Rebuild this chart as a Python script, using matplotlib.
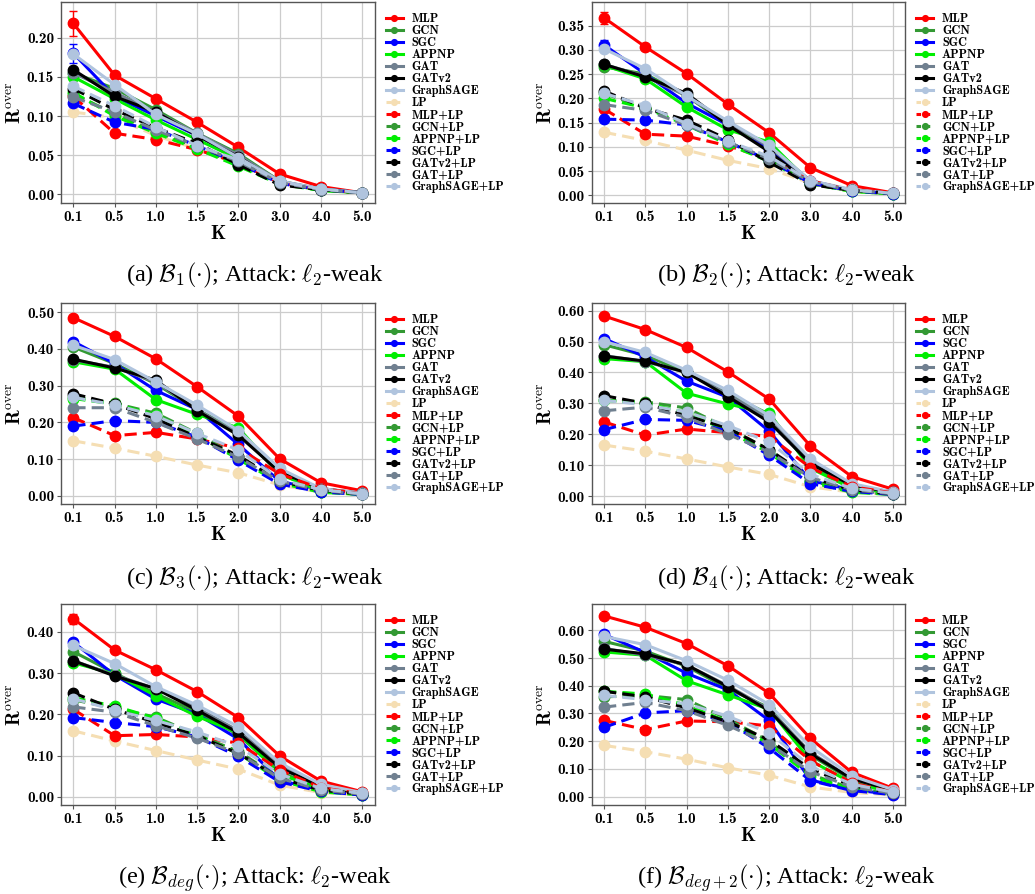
import matplotlib
matplotlib.use("Agg")
import matplotlib.pyplot as plt

# x categories (equally spaced on the axis)
K_LABELS = ["0.1", "0.5", "1.0", "1.5", "2.0", "3.0", "4.0", "5.0"]

MODELS = ["MLP", "GCN", "SGC", "APPNP", "GAT", "GATv2", "GraphSAGE", "LP",
          "MLP+LP", "GCN+LP", "APPNP+LP", "SGC+LP", "GATv2+LP", "GAT+LP",
          "GraphSAGE+LP"]

# one row per model (same order as MODELS), one column per K
B1_VALUES = [
    [0.218, 0.152, 0.122, 0.092, 0.060, 0.026, 0.010, 0.002],
    [0.155, 0.135, 0.108, 0.078, 0.052, 0.017, 0.006, 0.002],
    [0.180, 0.125, 0.100, 0.075, 0.048, 0.016, 0.007, 0.002],
    [0.150, 0.122, 0.095, 0.070, 0.045, 0.015, 0.005, 0.002],
    [0.155, 0.130, 0.105, 0.078, 0.050, 0.017, 0.007, 0.002],
    [0.159, 0.125, 0.105, 0.075, 0.048, 0.015, 0.007, 0.002],
    [0.179, 0.140, 0.102, 0.077, 0.047, 0.017, 0.007, 0.002],
    [0.105, 0.098, 0.075, 0.058, 0.040, 0.015, 0.006, 0.002],
    [0.125, 0.078, 0.070, 0.057, 0.040, 0.015, 0.006, 0.002],
    [0.128, 0.103, 0.080, 0.060, 0.038, 0.014, 0.006, 0.002],
    [0.130, 0.100, 0.078, 0.058, 0.036, 0.013, 0.005, 0.002],
    [0.116, 0.092, 0.083, 0.062, 0.040, 0.014, 0.006, 0.002],
    [0.135, 0.108, 0.085, 0.065, 0.038, 0.012, 0.006, 0.002],
    [0.124, 0.105, 0.082, 0.062, 0.042, 0.015, 0.006, 0.002],
    [0.138, 0.113, 0.086, 0.062, 0.044, 0.016, 0.007, 0.002],
]

B2_VALUES = [
    [0.366, 0.306, 0.251, 0.188, 0.129, 0.057, 0.020, 0.005],
    [0.265, 0.250, 0.205, 0.145, 0.105, 0.028, 0.008, 0.003],
    [0.310, 0.250, 0.190, 0.145, 0.095, 0.030, 0.010, 0.004],
    [0.268, 0.240, 0.182, 0.135, 0.110, 0.025, 0.008, 0.003],
    [0.270, 0.245, 0.205, 0.150, 0.100, 0.030, 0.010, 0.004],
    [0.270, 0.244, 0.210, 0.145, 0.090, 0.024, 0.010, 0.004],
    [0.302, 0.261, 0.205, 0.153, 0.103, 0.030, 0.012, 0.004],
    [0.130, 0.113, 0.093, 0.072, 0.055, 0.025, 0.008, 0.003],
    [0.178, 0.126, 0.122, 0.102, 0.075, 0.030, 0.010, 0.004],
    [0.210, 0.180, 0.150, 0.110, 0.075, 0.025, 0.010, 0.003],
    [0.200, 0.180, 0.145, 0.105, 0.070, 0.024, 0.008, 0.003],
    [0.157, 0.155, 0.145, 0.110, 0.072, 0.025, 0.009, 0.003],
    [0.215, 0.180, 0.155, 0.115, 0.068, 0.022, 0.010, 0.004],
    [0.187, 0.175, 0.145, 0.110, 0.075, 0.028, 0.010, 0.004],
    [0.210, 0.185, 0.148, 0.112, 0.080, 0.030, 0.011, 0.004],
]

B3_VALUES = [
    [0.485, 0.434, 0.373, 0.297, 0.217, 0.101, 0.036, 0.014],
    [0.405, 0.360, 0.305, 0.235, 0.175, 0.060, 0.015, 0.006],
    [0.420, 0.360, 0.287, 0.235, 0.140, 0.040, 0.015, 0.005],
    [0.365, 0.345, 0.262, 0.222, 0.185, 0.060, 0.012, 0.005],
    [0.370, 0.350, 0.310, 0.235, 0.170, 0.065, 0.020, 0.007],
    [0.372, 0.348, 0.315, 0.232, 0.165, 0.065, 0.020, 0.007],
    [0.410, 0.371, 0.310, 0.247, 0.178, 0.075, 0.020, 0.008],
    [0.150, 0.130, 0.108, 0.084, 0.063, 0.030, 0.010, 0.004],
    [0.213, 0.164, 0.173, 0.155, 0.130, 0.060, 0.020, 0.006],
    [0.270, 0.252, 0.225, 0.170, 0.105, 0.040, 0.012, 0.004],
    [0.265, 0.250, 0.220, 0.165, 0.100, 0.035, 0.010, 0.004],
    [0.190, 0.205, 0.200, 0.160, 0.097, 0.032, 0.011, 0.004],
    [0.278, 0.250, 0.210, 0.160, 0.110, 0.040, 0.015, 0.005],
    [0.240, 0.240, 0.200, 0.155, 0.105, 0.040, 0.015, 0.005],
    [0.268, 0.248, 0.218, 0.170, 0.125, 0.045, 0.017, 0.006],
]

B4_VALUES = [
    [0.583, 0.539, 0.481, 0.402, 0.314, 0.162, 0.063, 0.022],
    [0.490, 0.455, 0.400, 0.330, 0.265, 0.100, 0.030, 0.010],
    [0.510, 0.450, 0.372, 0.320, 0.210, 0.050, 0.020, 0.007],
    [0.445, 0.435, 0.333, 0.298, 0.268, 0.090, 0.025, 0.008],
    [0.455, 0.435, 0.400, 0.330, 0.250, 0.110, 0.035, 0.012],
    [0.453, 0.437, 0.400, 0.322, 0.240, 0.105, 0.035, 0.012],
    [0.500, 0.465, 0.407, 0.342, 0.260, 0.120, 0.040, 0.013],
    [0.165, 0.145, 0.120, 0.094, 0.070, 0.030, 0.012, 0.005],
    [0.240, 0.197, 0.217, 0.205, 0.193, 0.092, 0.030, 0.010],
    [0.310, 0.305, 0.285, 0.220, 0.150, 0.050, 0.015, 0.005],
    [0.310, 0.300, 0.270, 0.210, 0.140, 0.045, 0.012, 0.005],
    [0.215, 0.248, 0.245, 0.210, 0.132, 0.040, 0.015, 0.005],
    [0.325, 0.300, 0.260, 0.220, 0.150, 0.060, 0.020, 0.007],
    [0.276, 0.288, 0.255, 0.200, 0.142, 0.060, 0.020, 0.007],
    [0.310, 0.295, 0.272, 0.228, 0.175, 0.070, 0.025, 0.009],
]

BDEG_VALUES = [
    [0.432, 0.356, 0.308, 0.255, 0.192, 0.099, 0.038, 0.012],
    [0.352, 0.300, 0.250, 0.205, 0.150, 0.060, 0.020, 0.007],
    [0.375, 0.295, 0.237, 0.200, 0.140, 0.040, 0.015, 0.005],
    [0.325, 0.298, 0.245, 0.195, 0.155, 0.055, 0.018, 0.006],
    [0.330, 0.295, 0.262, 0.215, 0.160, 0.075, 0.025, 0.009],
    [0.330, 0.293, 0.262, 0.210, 0.155, 0.070, 0.025, 0.009],
    [0.367, 0.323, 0.267, 0.222, 0.170, 0.082, 0.030, 0.010],
    [0.160, 0.135, 0.112, 0.089, 0.067, 0.028, 0.010, 0.004],
    [0.212, 0.148, 0.151, 0.145, 0.130, 0.065, 0.022, 0.007],
    [0.235, 0.215, 0.193, 0.150, 0.110, 0.045, 0.015, 0.005],
    [0.240, 0.220, 0.190, 0.148, 0.105, 0.040, 0.012, 0.004],
    [0.192, 0.180, 0.170, 0.145, 0.098, 0.036, 0.013, 0.004],
    [0.252, 0.212, 0.180, 0.148, 0.105, 0.045, 0.016, 0.006],
    [0.218, 0.205, 0.172, 0.142, 0.105, 0.045, 0.016, 0.006],
    [0.238, 0.210, 0.185, 0.157, 0.122, 0.055, 0.020, 0.008],
]

BDEG2_VALUES = [
    [0.652, 0.611, 0.552, 0.472, 0.373, 0.210, 0.088, 0.030],
    [0.560, 0.525, 0.470, 0.390, 0.320, 0.150, 0.060, 0.020],
    [0.585, 0.520, 0.445, 0.385, 0.275, 0.060, 0.025, 0.008],
    [0.522, 0.510, 0.418, 0.367, 0.315, 0.130, 0.050, 0.015],
    [0.535, 0.510, 0.475, 0.400, 0.315, 0.160, 0.065, 0.022],
    [0.532, 0.515, 0.475, 0.397, 0.310, 0.155, 0.065, 0.022],
    [0.578, 0.548, 0.490, 0.420, 0.332, 0.180, 0.075, 0.025],
    [0.185, 0.162, 0.135, 0.104, 0.077, 0.035, 0.015, 0.006],
    [0.275, 0.242, 0.273, 0.270, 0.255, 0.130, 0.050, 0.015],
    [0.360, 0.365, 0.350, 0.280, 0.200, 0.080, 0.030, 0.010],
    [0.380, 0.370, 0.330, 0.270, 0.190, 0.075, 0.025, 0.008],
    [0.250, 0.302, 0.310, 0.270, 0.175, 0.058, 0.022, 0.007],
    [0.380, 0.360, 0.320, 0.270, 0.205, 0.100, 0.040, 0.013],
    [0.323, 0.340, 0.310, 0.257, 0.190, 0.090, 0.035, 0.012],
    [0.365, 0.350, 0.335, 0.290, 0.230, 0.110, 0.045, 0.016],
]

# std at K=0.1 (only visible error bars)
MLP_ERR_FIRST = [0.016, 0.012, 0.006, 0.005, 0.012, 0.006]
SGC_ERR_FIRST = [0.012, 0.010, 0.006, 0.006, 0.008, 0.008]

CAPTIONS = [
    r"(a) $\mathcal{B}_1(\cdot)$; Attack: $\ell_2$-weak",
    r"(b) $\mathcal{B}_2(\cdot)$; Attack: $\ell_2$-weak",
    r"(c) $\mathcal{B}_3(\cdot)$; Attack: $\ell_2$-weak",
    r"(d) $\mathcal{B}_4(\cdot)$; Attack: $\ell_2$-weak",
    r"(e) $\mathcal{B}_{deg}(\cdot)$; Attack: $\ell_2$-weak",
    r"(f) $\mathcal{B}_{deg+2}(\cdot)$; Attack: $\ell_2$-weak",
]

Y_TICKS = [
    [0.00, 0.05, 0.10, 0.15, 0.20],
    [0.00, 0.05, 0.10, 0.15, 0.20, 0.25, 0.30, 0.35],
    [0.00, 0.10, 0.20, 0.30, 0.40, 0.50],
    [0.00, 0.10, 0.20, 0.30, 0.40, 0.50, 0.60],
    [0.00, 0.10, 0.20, 0.30, 0.40],
    [0.00, 0.10, 0.20, 0.30, 0.40, 0.50, 0.60],
]
Y_LIMS = [(-0.011, 0.245), (-0.016, 0.398), (-0.022, 0.524),
          (-0.026, 0.624), (-0.020, 0.467), (-0.030, 0.694)]

colors = {
    "MLP": "#ff0000", "GCN": "#339933", "SGC": "#0000ff", "APPNP": "#00ee00",
    "GAT": "#708090", "GATv2": "#000000", "GraphSAGE": "#b0c4de",
    "LP": "#f5deb3",
}


def base_color(name):
    return colors[name.replace("+LP", "")]


plt.rcParams["mathtext.fontset"] = "cm"
plt.rcParams["axes.unicode_minus"] = False

all_values = [B1_VALUES, B2_VALUES, B3_VALUES, B4_VALUES, BDEG_VALUES, BDEG2_VALUES]

fig = plt.figure(figsize=(10.35, 8.94), dpi=100)

# axes boxes in figure fractions
col_left = [0.0589, 0.5717]
row_bottom = [0.7729, 0.4362, 0.0996]
ax_w, ax_h = 0.3030, 0.2245

xs = list(range(len(K_LABELS)))

for p, values in enumerate(all_values):
    r, c = divmod(p, 2)
    ax = fig.add_axes([col_left[c], row_bottom[r], ax_w, ax_h])
    ax.set_facecolor("white")
    ax.grid(True, color="#cccccc", linewidth=0.9)
    ax.set_axisbelow(True)
    for s in ax.spines.values():
        s.set_color("#555555")
        s.set_linewidth(1.0)

    for m, name in enumerate(MODELS):
        dashed = name.endswith("+LP") or name == "LP"
        col = base_color(name)
        err_first = {"MLP": MLP_ERR_FIRST[p], "SGC": SGC_ERR_FIRST[p]}.get(name)
        if err_first is not None:
            ax.errorbar(xs[:1], values[m][:1], yerr=[err_first], fmt="none",
                        ecolor=col, elinewidth=1.0, capsize=3)
        line, = ax.plot(xs, values[m], label=name, color=col,
                        linewidth=2.2, marker="o", markersize=7.5)
        if dashed:
            line.set_dashes((4, 2))

    ax.set_xlim(-0.3, 7.3)
    ax.set_ylim(*Y_LIMS[p])
    ax.set_xticks(xs)
    ax.set_xticklabels(K_LABELS, fontfamily="cmb10", fontsize=11)
    ax.set_yticks(Y_TICKS[p])
    ax.set_yticklabels(["%.2f" % v for v in Y_TICKS[p]], fontfamily="cmb10", fontsize=11)
    ax.tick_params(axis="both", length=3, color="#555555", pad=2)
    ax.set_xlabel(r"$\mathbf{K}$", fontsize=14, labelpad=0)
    ax.set_ylabel(r"$\mathbf{R}^{\mathrm{over}}$", fontsize=14, labelpad=2)

    leg = ax.legend(loc="upper left", bbox_to_anchor=(1.0, 1.0),
                    frameon=False, prop={"family": "cmb10", "size": 8.8},
                    handlelength=1.4, handletextpad=0.7, labelspacing=0.0,
                    markerscale=0.55, borderaxespad=0.5)
    for h, name in zip(leg.get_lines(), MODELS):
        if name.endswith("+LP") or name == "LP":
            h.set_dashes((1.5, 1.5))

    cx = [0.2464, 0.7594][c]
    cy = [0.692, 0.3535, 0.018][r]
    fig.text(cx, cy, CAPTIONS[p], ha="center", va="center",
             fontfamily="Liberation Serif", fontsize=17.5)

fig.savefig("out.png", dpi=100)
